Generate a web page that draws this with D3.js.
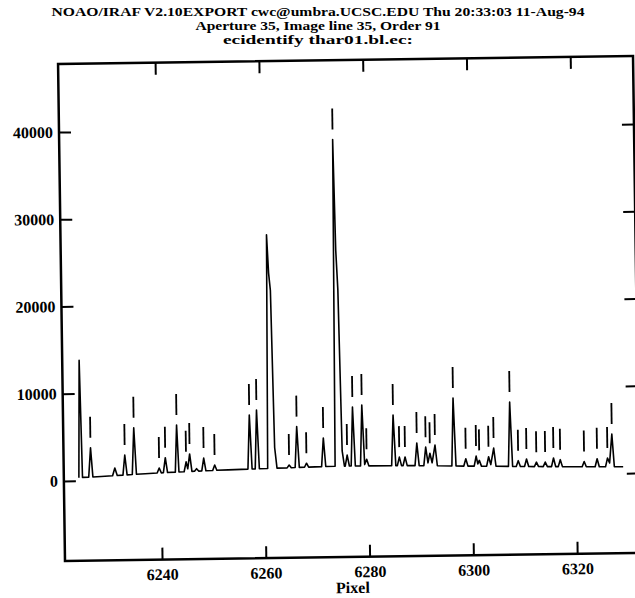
<!DOCTYPE html>
<html>
<head>
<meta charset="utf-8">
<script src="https://cdn.jsdelivr.net/npm/d3@7/dist/d3.min.js"></script>
<style>
  body { margin: 0; background: #fff; }
  svg text { font-family: "Liberation Serif", "Times New Roman", serif; font-weight: bold; fill: #000; }
</style>
</head>
<body>
<script>
// header lines of the IRAF plot
const titleLines = [
  "NOAO/IRAF V2.10EXPORT cwc@umbra.UCSC.EDU Thu 20:33:03 11-Aug-94",
  "Aperture 35, Image line 35, Order 91",
  "ecidentify thar01.bl.ec:"
];
const xLabel = "Pixel";

const pixelTicks = [6240, 6260, 6280, 6300, 6320];
const countTicks = [0, 10000, 20000, 30000, 40000];
const pixelRange = [6221.3, 6332.1];
const countRange = [-9170, 47800];

// [pixel, counts]
const spectrum = [
  [6224.2, 340], [6224.56, 13800], [6224.9, 380],
  [6226.1, 400], [6226.52, 3770], [6226.9, 420],
  [6228.5, 460], [6230.7, 520], [6231.15, 1410], [6231.6, 540],
  [6232.7, 580], [6233.1, 2880], [6233.5, 600],
  [6234.5, 630], [6234.9, 5990], [6235.3, 650],
  [6237.0, 700], [6239.3, 760], [6239.7, 1340], [6240.1, 780],
  [6240.5, 790], [6240.9, 2510], [6241.3, 800],
  [6242.8, 840], [6243.16, 6235], [6243.5, 850],
  [6244.5, 870], [6244.9, 2000], [6245.2, 1200], [6245.6, 2900], [6246.0, 900],
  [6246.5, 910], [6246.9, 1200], [6247.3, 920],
  [6247.9, 930], [6248.3, 2400], [6248.7, 940],
  [6250.0, 970], [6250.4, 1590], [6250.8, 980],
  [6253.0, 1010], [6256.8, 1070], [6257.2, 7270], [6257.6, 1080],
  [6258.2, 1080], [6258.6, 7830], [6259.0, 1090],
  [6260.6, 1100], [6261.0, 27900], [6261.3, 23500], [6261.6, 21500], [6262.0, 3500], [6262.4, 1130],
  [6264.35, 1150], [6264.75, 1470], [6265.15, 1160],
  [6265.9, 1170], [6266.3, 5860], [6266.7, 1180],
  [6267.7, 1190], [6268.1, 1650], [6268.5, 1200],
  [6271.0, 1230], [6271.4, 4520], [6271.8, 1240],
  [6273.6, 1250], [6274.0, 38700], [6274.3, 26000], [6274.6, 21500], [6275.0, 3000], [6275.4, 1260],
  [6275.55, 1260], [6275.95, 2520], [6276.35, 1260],
  [6276.7, 1260], [6277.1, 8020], [6277.5, 1260],
  [6278.5, 1260], [6278.9, 8230], [6279.3, 1400], [6279.7, 2000], [6280.1, 1250],
  [6284.5, 1230], [6284.9, 7040], [6285.3, 1230],
  [6285.6, 1225], [6286.0, 2200], [6286.4, 1220],
  [6286.7, 1220], [6287.1, 2200], [6287.5, 1215],
  [6289.0, 1200], [6289.4, 3790], [6289.8, 1190],
  [6290.7, 1180], [6291.1, 3300], [6291.5, 1500], [6291.9, 2600], [6292.3, 1500], [6292.9, 3530], [6293.3, 1150],
  [6296.1, 1100], [6296.5, 8880], [6296.9, 1100],
  [6298.4, 1070], [6298.8, 1900], [6299.2, 1060],
  [6300.4, 1050], [6300.8, 2200], [6301.1, 1300], [6301.4, 1700], [6301.8, 1040],
  [6302.8, 1020], [6303.2, 2100], [6303.6, 1200], [6304.2, 3090], [6304.6, 1000],
  [6307.0, 960], [6307.4, 8330], [6307.8, 950],
  [6308.5, 940], [6308.9, 1600], [6309.3, 930],
  [6310.1, 920], [6310.5, 1780], [6310.9, 910],
  [6312.0, 900], [6312.4, 1400], [6312.8, 895],
  [6313.7, 880], [6314.1, 1400], [6314.5, 875],
  [6315.3, 865], [6315.7, 1850], [6316.1, 860],
  [6316.6, 855], [6317.0, 1650], [6317.4, 850],
  [6321.2, 800], [6321.6, 1400], [6322.0, 795],
  [6323.7, 780], [6324.1, 1700], [6324.5, 775],
  [6325.7, 760], [6326.1, 1760], [6326.5, 1200], [6327.0, 4500], [6327.4, 750],
  [6329.1, 730]
];

// identified features: [pixel, counts of the line the mark sits above]
const featureMarks = [
  [6226.52, 3770], [6233.1, 2880], [6234.9, 5990], [6239.7, 1340], [6240.9, 2510],
  [6243.16, 6235], [6244.9, 2000], [6245.6, 2900], [6248.3, 2400], [6250.4, 1590],
  [6257.2, 7270], [6258.6, 7830], [6264.75, 1470], [6266.3, 5860], [6268.1, 1650],
  [6271.4, 4520], [6274.0, 38700], [6275.95, 2520], [6277.1, 8020], [6278.9, 8230],
  [6279.7, 2000], [6284.9, 7040], [6286.0, 2200], [6287.1, 2200], [6289.4, 3790],
  [6291.1, 3300], [6291.9, 2600], [6292.9, 3530], [6296.5, 8880], [6298.8, 1900],
  [6300.8, 2200], [6301.4, 1700], [6303.2, 2100], [6304.2, 3090], [6307.4, 8330],
  [6308.9, 1600], [6310.5, 1780], [6312.4, 1400], [6314.1, 1400], [6315.7, 1850],
  [6317.0, 1650], [6321.6, 1400], [6324.1, 1700], [6326.1, 1760], [6327.0, 4500]
];

/**
 * ecidentify plot - one echelle order with the identified lines marked
 */
class IdentifyPlot {
  constructor() {
    this.margin = {top: 60, left: 61.5};
    this.width = 575;
    this.height = 497;
    // the scanned page sits a little crooked
    this.tilt = -0.8;

    this.svg = d3.select("body").append("svg")
      .attr("width", 635)
      .attr("height", 598);

    this.x = d3.scaleLinear().domain(pixelRange).range([0, this.width]);
    this.y = d3.scaleLinear().domain(countRange).range([this.height, 0]);

    // title kept level, the plot box gets the tilt
    this.drawTitle();
    this.root = this.svg.append("g")
      .attr("transform", "rotate(" + this.tilt + ",349,308.5)");
    this.g = this.root.append("g")
      .attr("transform", "translate(" + this.margin.left + "," + this.margin.top + ")");
    this.drawAxes();
    this.drawSpectrum();
    this.drawMarks();
  }

  drawTitle() {
    const widths = [533, 245, 190];
    const baselines = [16, 30, 44];
    titleLines.forEach((t, i) => {
      this.svg.append("text")
        .attr("x", 318)
        .attr("y", baselines[i])
        .attr("text-anchor", "middle")
        .attr("font-size", 12)
        .attr("textLength", widths[i])
        .attr("lengthAdjust", "spacingAndGlyphs")
        .text(t);
    });
  }

  drawAxes() {
    const tick = 12;
    const fmt = d3.format("d");

    // left axis with labels, ticks pointing in
    const left = this.g.append("g")
      .call(d3.axisLeft(this.y).tickValues(countTicks).tickSize(-tick).tickSizeOuter(0)
        .tickPadding(6).tickFormat(fmt));
    // right axis, ticks only
    const right = this.g.append("g")
      .attr("transform", "translate(" + this.width + ",0)")
      .call(d3.axisRight(this.y).tickValues(countTicks).tickSize(-tick).tickSizeOuter(0).tickFormat(""));
    const bottom = this.g.append("g")
      .attr("transform", "translate(0," + this.height + ")")
      .call(d3.axisBottom(this.x).tickValues(pixelTicks).tickSize(-tick).tickSizeOuter(0)
        .tickPadding(9).tickFormat(fmt));
    const top = this.g.append("g")
      .call(d3.axisTop(this.x).tickValues(pixelTicks).tickSize(-tick).tickSizeOuter(0).tickFormat(""));

    for (let ax of [left, right, bottom, top]) {
      ax.select(".domain").remove();
      ax.selectAll("line").attr("stroke", "#000").attr("stroke-width", 2);
      ax.selectAll("text")
        .attr("font-size", 16)
        .attr("font-family", "Liberation Serif, serif")
        .attr("font-weight", "bold")
        .attr("fill", "#000");
    }

    // frame
    this.g.append("rect")
      .attr("width", this.width)
      .attr("height", this.height)
      .attr("fill", "none")
      .attr("stroke", "#000")
      .attr("stroke-width", 2.5);

    this.g.append("text")
      .attr("x", this.width / 2)
      .attr("y", this.height + 36)
      .attr("text-anchor", "middle")
      .attr("font-size", 16)
      .text(xLabel);
  }

  drawSpectrum() {
    const line = d3.line()
      .x(d => this.x(d[0]))
      .y(d => this.y(d[1]));

    this.g.append("path")
      .datum(spectrum)
      .attr("d", line)
      .attr("fill", "none")
      .attr("stroke", "#000")
      .attr("stroke-width", 1.6)
      .attr("stroke-linejoin", "round");
  }

  drawMarks() {
    // marks stand a fixed distance above the feature
    this.g.selectAll(".mark")
      .data(featureMarks)
      .join("line")
      .attr("class", "mark")
      .attr("x1", d => this.x(d[0]))
      .attr("x2", d => this.x(d[0]))
      .attr("y1", d => this.y(d[1]) - 10)
      .attr("y2", d => this.y(d[1]) - 31)
      .attr("stroke", "#000")
      .attr("stroke-width", 1.8);
  }
}

const plot = new IdentifyPlot();
</script>
</body>
</html>
